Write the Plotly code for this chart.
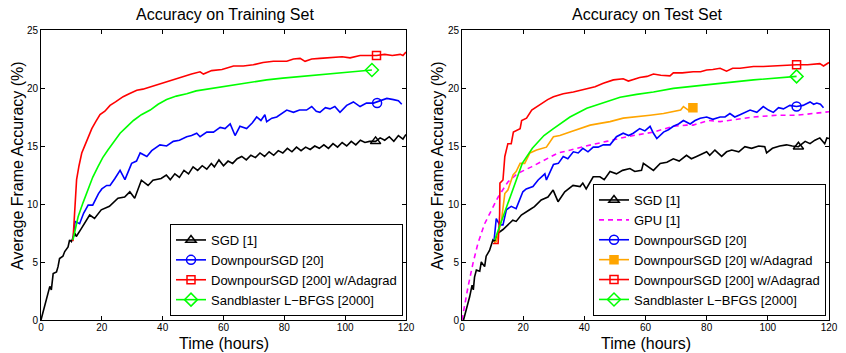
import plotly.graph_objects as go

# ---------------- Training set (left panel) ----------------
train_sgd_x = [0, 1.2, 2.2, 2.9, 3.4, 4.0, 5.1, 5.6, 6.1, 7.2, 7.8, 8.9, 9.4, 10.0, 11.1, 11.6, 13.3, 14.9,
               16.0, 17.6, 19.8, 22.5, 25.3, 27.5, 29.2, 30.8, 33.0, 35.2, 36.8, 39.5, 41.2, 42.5, 44, 45.5, 47,
               48.5, 50, 51.5, 53, 54.5, 56, 57, 58.5, 60, 61.5, 63, 64.5, 66, 67.5, 69, 70.5, 72, 73.5, 75,
               76.5, 78, 79.5, 81, 82.5, 84, 85.5, 87, 88.5, 90, 91.5, 93, 94.5, 96, 97.5, 99, 100.5, 102,
               103.5, 105, 106.5, 108, 110, 111.5, 113, 114.5, 116, 117.5, 119, 120]
train_sgd_y = [0, 1.15, 2.2, 2.9, 2.6, 4.0, 4.15, 4.6, 5.3, 5.5, 5.9, 6.3, 6.9, 6.75, 7.5, 7.2, 7.9, 8.6,
               9.05, 8.75, 9.5, 9.8, 10.5, 10.6, 11.05, 10.5, 12.05, 11.6, 12.05, 12.2, 12.5, 12.1, 12.6, 12.3,
               12.9, 12.6, 13.2, 12.9, 13.3, 13.0, 13.5, 13.2, 13.8, 13.3, 13.7, 13.5, 13.9, 14.1, 13.8, 14.2,
               14.0, 14.4, 14.1, 14.5, 14.2, 14.6, 14.4, 14.8, 14.5, 14.9, 14.6, 14.9, 14.7, 15.0, 14.8, 15.1,
               14.8, 15.2, 14.9, 15.3, 15.0, 15.4, 15.1, 15.5, 15.3, 15.4, 15.4, 15.7, 15.5, 15.8, 15.4, 15.9,
               15.6, 16.0]

train_dsgd_x = [10.5, 11.2, 12.7, 14, 15.5, 17, 18.9, 20, 21.6, 22.7, 24.3, 26, 27.6, 29.8, 31.4, 32.6, 34.8,
                36.4, 39.1, 41.3, 43.5, 45.5, 47.9, 49.5, 51.2, 52.3, 54.5, 56.7, 58.9, 60.5, 62.2, 63.8, 65.4,
                67.6, 69.5, 70.9, 72.3, 73.6, 74.2, 75.9, 77.5, 79, 80.8, 83, 85, 87.3, 89, 90.5, 91.7, 93.5,
                95, 96.6, 98.3, 100.5, 102.7, 104.9, 107, 109.3, 111.5, 113.7, 115.9, 117.5, 118.6]
train_dsgd_y = [6.9, 8.5, 8.3, 9.2, 9.9, 9.9, 10.9, 11.3, 11.6, 11.6, 12.2, 12.9, 12.1, 13.5, 13.7, 14.4, 14.1,
                14.6, 15.1, 15.0, 15.4, 15.5, 15.8, 15.9, 16.1, 15.8, 16.2, 16.2, 16.6, 16.5, 16.9, 15.9, 16.7,
                16.5, 17.0, 17.5, 17.2, 17.7, 17.1, 17.4, 17.5, 17.8, 18.1, 17.9, 18.1, 18.1, 18.4, 18.0, 17.9,
                18.3, 18.2, 18.4, 17.9, 18.5, 18.8, 18.4, 18.7, 18.7, 18.9, 19.1, 19.0, 18.9, 18.6]

train_ada_x = [10.5, 11.0, 11.7, 12.5, 13.4, 14.5, 15.5, 16.7, 18, 19.4, 21, 22.7, 24.5, 27, 29, 31.5, 33.5,
               35.9, 38.5, 41.3, 44, 46.8, 49.5, 52.3, 53.4, 56.1, 59.5, 63.3, 66.5, 69.8, 73, 76.4, 80.8, 83,
               85.2, 86.8, 89, 91.7, 94, 96.2, 99, 101.6, 104.9, 107.5, 110.3, 113, 115.5, 118.1, 119, 120]
train_ada_y = [6.8, 9.0, 12.1, 13.3, 14.4, 15.1, 15.8, 16.5, 17.1, 17.7, 18.0, 18.5, 18.8, 19.25, 19.5, 19.8,
               19.9, 20.1, 20.3, 20.55, 20.8, 21.0, 21.2, 21.4, 21.2, 21.5, 21.6, 21.9, 21.9, 22.0, 22.2, 22.3,
               22.3, 22.5, 22.55, 22.3, 22.5, 22.55, 22.6, 22.7, 22.7, 22.6, 22.8, 22.8, 22.8, 22.9, 22.8, 22.9,
               22.8, 23.1]

train_lbfgs_x = [10.5, 12.2, 13.8, 15.5, 17, 18.7, 20.3, 22, 24, 26, 28, 30.4, 33, 35.9, 38.5, 41.3, 44.5, 47.9,
                 51, 54.5, 59, 63.3, 68.5, 74.2, 79.5, 85.2, 90.5, 96.2, 102.5, 108.8]
train_lbfgs_y = [6.9, 8.9, 10.1, 11.2, 12.3, 13.2, 14.0, 14.65, 15.4, 16.1, 16.6, 17.2, 17.7, 18.1, 18.6, 19.0,
                 19.3, 19.5, 19.75, 19.9, 20.1, 20.26, 20.5, 20.7, 20.85, 21.0, 21.1, 21.25, 21.4, 21.55]

# marker positions (one marker per curve)
train_mark_x = {"sgd": 110.0, "dsgd": 110.5, "ada": 110.3, "lbfgs": 108.8}
train_mark_y = {"sgd": 15.4, "dsgd": 18.7, "ada": 22.8, "lbfgs": 21.55}

# ---------------- Test set (right panel) ----------------
test_sgd_x = [0.5, 1.5, 2.5, 3.3, 3.7, 4.1, 4.7, 5.8, 6.3, 7.4, 7.9, 9.0, 10.1, 10.7, 11.8, 13.4, 15.0, 16.6,
              17.7, 19.4, 22.1, 23.7, 25.9, 28.1, 29.8, 31.4, 33.6, 36.3, 38.6, 39.5, 40.6, 42.9, 45.1, 46.5,
              48.4, 50.5, 52.5, 54.9, 56.5, 58.7, 59.3, 61, 62.6, 64.8, 67, 69.1, 71, 73.4, 75, 76.7, 78.5, 80,
              81, 82.7, 84.9, 86.5, 88.2, 90.5, 92.5, 94.7, 97, 99, 99.6, 101.5, 103.9, 106.1, 108, 110, 112.2,
              113.8, 115.4, 117, 118.6, 119.3, 120]
test_sgd_y = [0, 0.9, 2.0, 3.0, 2.6, 3.7, 4.3, 4.2, 5.0, 4.6, 5.5, 6.0, 6.9, 6.75, 7.5, 7.8, 8.2, 8.6, 8.5,
              9.05, 9.5, 9.77, 10.35, 10.6, 11.2, 10.2, 11.05, 11.6, 11.5, 11.8, 11.3, 12.35, 12.35, 12.1, 12.8,
              12.6, 12.9, 13.06, 12.8, 12.9, 13.5, 13.2, 12.9, 13.5, 13.6, 13.9, 13.7, 14.2, 13.9, 14.1, 14.3,
              14.5, 14.2, 14.65, 14.1, 14.5, 14.65, 14.5, 14.94, 14.8, 15.0, 14.94, 14.4, 14.8, 15.0, 15.1,
              15.0, 14.94, 15.4, 15.2, 15.5, 15.7, 15.2, 15.7, 15.65]

test_gpu_x = [0, 1, 2, 3.6, 5.2, 7.4, 9.6, 11.8, 15, 18.3, 22.7, 27, 31.4, 35.5, 40.5, 47.3, 53.9, 62.6, 69.1,
              73.5, 75.6, 80.5, 84.4, 95.3, 102.9, 109.4, 114.8, 120]
test_gpu_y = [0, 1.6, 2.9, 4.9, 6.6, 8.3, 9.5, 10.6, 11.9, 12.65, 13.2, 13.8, 14.4, 14.65, 15.0, 15.4, 15.8,
              16.2, 16.7, 16.8, 16.8, 17.2, 17.1, 17.5, 17.65, 17.65, 17.8, 17.95]

test_dsgd_x = [10.5, 11.2, 12.3, 13.4, 14.5, 16.1, 17.7, 19.9, 21, 23.2, 24.9, 27.1, 27.6, 29.9, 31.5, 33.1,
               34.6, 36.4, 38, 39.5, 41.2, 42.9, 44.5, 46.2, 48.4, 50.5, 52.7, 54.5, 56, 58.1, 59.8, 61.5, 62.6,
               63.7, 65.9, 67.5, 69.1, 70.8, 72.4, 74.6, 76.2, 77.9, 80, 82, 84.4, 86, 87.6, 89.2, 90.9, 92.5,
               94.2, 96.4, 98.5, 100.2, 101.8, 103.5, 105.1, 107.2, 109.4, 111.5, 113.8, 115, 116, 117.2, 118.2]
test_dsgd_y = [6.9, 8.75, 8.2, 8.2, 9.5, 9.8, 9.6, 11.05, 11.3, 11.5, 12.07, 12.6, 12.07, 13.4, 13.5, 14.1,
               13.9, 14.5, 14.4, 14.8, 14.5, 14.9, 14.9, 15.1, 15.1, 15.8, 16.1, 15.9, 16.1, 16.5, 16.3, 16.7,
               16.1, 15.65, 16.2, 16.4, 16.7, 16.9, 17.2, 16.9, 17.2, 17.4, 17.5, 17.3, 17.5, 17.5, 17.8, 17.5,
               17.7, 17.9, 18.1, 17.9, 18.4, 18.1, 17.9, 18.3, 18.2, 18.5, 18.4, 18.5, 18.8, 18.6, 18.7, 18.6,
               18.3]

test_dsgd_ada_x = [10.5, 11.2, 12.9, 14, 15, 16.7, 17.7, 19, 20.5, 22.2, 24.4, 27.6, 29.9, 32, 35.3, 38.6,
                   41.9, 45.1, 48.4, 52.7, 57.1, 61.5, 65.9, 69.1, 71.5, 72.4, 74, 75.5]
test_dsgd_ada_y = [6.7, 6.75, 8.6, 10.9, 11.2, 12.5, 12.8, 13.5, 13.5, 14.4, 14.65, 14.9, 15.8, 15.9, 16.2,
                   16.5, 16.8, 16.95, 17.1, 17.4, 17.5, 17.65, 17.8, 17.95, 18.1, 18.4, 18.1, 18.3]

test_ada_x = [10.1, 11.8, 12.3, 12.4, 13.4, 14.0, 15.0, 16.1, 16.8, 19, 19.5, 21.1, 22.8, 24.4, 26.6, 28, 29.9,
              33.1, 36.4, 38.5, 40.8, 43.5, 46.2, 49.5, 52.7, 54.4, 58.1, 60.5, 62.6, 65, 68, 69.1, 72, 75.6,
              78, 80, 82, 84.4, 86.5, 88.5, 90.9, 93, 95.3, 98.5, 101.8, 105.5, 109.4, 113, 117, 118.2, 120]
test_ada_y = [6.6, 6.6, 9.05, 11.8, 12.07, 14.1, 15.2, 15.2, 16.2, 16.5, 17.2, 17.4, 18.1, 18.4, 18.8, 19.0,
              19.25, 19.5, 19.65, 19.8, 19.95, 20.1, 20.4, 20.7, 20.8, 20.6, 20.9, 21.0, 21.2, 21.1, 21.05,
              21.3, 21.3, 21.4, 21.4, 21.55, 21.6, 21.7, 21.45, 21.7, 21.7, 21.8, 21.85, 21.85, 21.9, 21.95,
              22.0, 22.0, 22.1, 21.9, 22.2]

test_lbfgs_x = [10.7, 12.3, 14, 16.1, 18.3, 19.7, 23, 26.8, 29.9, 35.3, 40.8, 46.2, 51.7, 57.1, 62.6, 69.1,
                75.6, 84.4, 95.3, 109.4]
test_lbfgs_y = [6.9, 8.05, 9.3, 10.9, 12.35, 13.5, 14.8, 15.9, 16.5, 17.5, 18.25, 18.7, 19.2, 19.45, 19.65,
                19.97, 20.17, 20.4, 20.7, 21.0]

test_mark_x = {"sgd": 110.0, "dsgd": 109.4, "dsgd_ada": 75.5, "ada": 109.4, "lbfgs": 109.4}
test_mark_y = {"sgd": 14.94, "dsgd": 18.4, "dsgd_ada": 18.3, "ada": 22.0, "lbfgs": 21.0}

# ---------------- labels / styles ----------------
names = {
    "sgd": "SGD [1]",
    "gpu": "GPU [1]",
    "dsgd": "DownpourSGD [20]",
    "dsgd_ada": "DownpourSGD [20] w/Adagrad",
    "ada": "DownpourSGD [200] w/Adagrad",
    "lbfgs": "Sandblaster L\u2212BFGS [2000]",
}
colors = {"sgd": "#000000", "gpu": "#ff00ff", "dsgd": "#0000ff", "dsgd_ada": "#ffa500",
          "ada": "#ff0000", "lbfgs": "#00ff00"}
symbols = {"sgd": "triangle-up-open", "dsgd": "circle-open", "dsgd_ada": "square",
           "ada": "square-open", "lbfgs": "diamond-open"}
msizes = {"sgd": 9, "dsgd": 9, "dsgd_ada": 8, "ada": 8, "lbfgs": 10}

FONT = "Liberation Sans, Arial, Helvetica, sans-serif"
LW = 1.6

fig = go.Figure()

def add_series(key, xs, ys, mx, my, xa, ya, legend, rank):
    fig.add_trace(go.Scatter(x=xs, y=ys, mode="lines", line=dict(color=colors[key], width=LW),
                             xaxis=xa, yaxis=ya, showlegend=False, hoverinfo="skip"))
    fig.add_trace(go.Scatter(x=[mx], y=[my], mode="lines+markers", name=names[key],
                             line=dict(color=colors[key], width=LW),
                             marker=dict(symbol=symbols[key], size=msizes[key], color=colors[key],
                                         line=dict(width=1.5, color=colors[key])),
                             xaxis=xa, yaxis=ya, legend=legend, legendrank=rank))

train = {
    "sgd": (train_sgd_x, train_sgd_y),
    "dsgd": (train_dsgd_x, train_dsgd_y),
    "ada": (train_ada_x, train_ada_y),
    "lbfgs": (train_lbfgs_x, train_lbfgs_y),
}
for i, k in enumerate(["sgd", "dsgd", "ada", "lbfgs"]):
    xs, ys = train[k]
    add_series(k, xs, ys, train_mark_x[k], train_mark_y[k], "x", "y", "legend", i + 1)

# GPU dashed (right)
fig.add_trace(go.Scatter(x=test_gpu_x, y=test_gpu_y, mode="lines", name=names["gpu"],
                         line=dict(color=colors["gpu"], width=LW, dash="5px,4px"),
                         xaxis="x2", yaxis="y2", legend="legend2", legendrank=2))
test = {
    "sgd": (test_sgd_x, test_sgd_y),
    "dsgd": (test_dsgd_x, test_dsgd_y),
    "dsgd_ada": (test_dsgd_ada_x, test_dsgd_ada_y),
    "ada": (test_ada_x, test_ada_y),
    "lbfgs": (test_lbfgs_x, test_lbfgs_y),
}
ranks = {"sgd": 1, "dsgd": 3, "dsgd_ada": 4, "ada": 5, "lbfgs": 6}
for k in ["sgd", "dsgd", "dsgd_ada", "ada", "lbfgs"]:
    xs, ys = test[k]
    add_series(k, xs, ys, test_mark_x[k], test_mark_y[k], "x2", "y2", "legend2", ranks[k])

W, H = 846, 353
ax_common = dict(showline=True, linecolor="black", linewidth=1, mirror="ticks", ticks="inside",
                 ticklen=4, tickcolor="black", tickwidth=1, showgrid=False, zeroline=False,
                 automargin=False,
                 tickfont=dict(family=FONT, size=10, color="black"))
x_ticks = [0, 20, 40, 60, 80, 100, 120]
y_ticks = [0, 5, 10, 15, 20, 25]

ydom = [33 / H, 323 / H]
fig.update_layout(
    width=W, height=H,
    margin=dict(l=0, r=0, t=0, b=0, pad=0, autoexpand=False),
    paper_bgcolor="white", plot_bgcolor="white",
    font=dict(family=FONT, color="black"),
    xaxis=dict(domain=[41 / W, 406 / W], range=[0, 120], tickvals=x_ticks, anchor="y",
               ticklabelstandoff=-2, **ax_common),
    yaxis=dict(domain=ydom, range=[0, 25], tickvals=y_ticks, anchor="x", **ax_common),
    xaxis2=dict(domain=[462 / W, 829 / W], range=[0, 120], tickvals=x_ticks, anchor="y2",
                ticklabelstandoff=-2, **ax_common),
    yaxis2=dict(domain=ydom, range=[0, 25], tickvals=y_ticks, anchor="x2", **ax_common),
    legend=dict(x=403 / W, xanchor="right", y=(H - 316) / H, yanchor="bottom",
                bgcolor="white", bordercolor="black", borderwidth=1,
                font=dict(family=FONT, size=13, color="black"), tracegroupgap=0, itemwidth=30),
    legend2=dict(x=826 / W, xanchor="right", y=(H - 316) / H, yanchor="bottom",
                 bgcolor="white", bordercolor="black", borderwidth=1,
                 font=dict(family=FONT, size=13, color="black"), tracegroupgap=0, itemwidth=30),
    showlegend=True,
)

def ann(text, x, y, size, angle=0):
    fig.add_annotation(text=text, x=x / W, y=1 - y / H, xref="paper", yref="paper",
                       showarrow=False, textangle=angle, xanchor="center", yanchor="middle",
                       font=dict(family=FONT, size=size, color="black"))

ann("Accuracy on Training Set", 225, 15, 16)
ann("Accuracy on Test Set", 647, 15, 16)
ann("Time (hours)", 224, 343, 16)
ann("Time (hours)", 646, 343, 16)
ann("Average Frame Accuracy (%)", 17, 166, 16, -90)
ann("Average Frame Accuracy (%)", 437, 166, 16, -90)

fig.write_html("out.html")
